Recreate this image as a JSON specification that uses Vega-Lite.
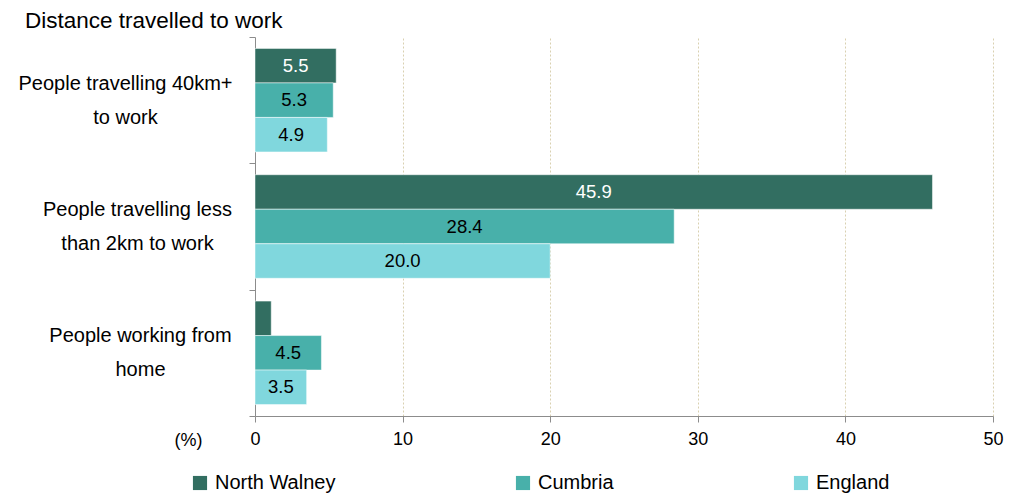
{
  "$schema": "https://vega.github.io/schema/vega-lite/v6.json",
  "width": 738,
  "height": 379,
  "autosize": {"type": "none"},
  "padding": {"left": 255, "top": 37, "right": 29, "bottom": 77},
  "background": "white",
  "config": {
    "font": "Liberation Sans",
    "view": {"stroke": null},
    "axis": {"labelFont": "Liberation Sans", "titleFont": "Liberation Sans"}
  },
  "title": {
    "text": "Distance travelled to work",
    "anchor": "start",
    "frame": "group",
    "dx": -230,
    "dy": 14,
    "offset": 9,
    "fontSize": 22.5,
    "fontWeight": "normal",
    "color": "#000000",
    "font": "Liberation Sans"
  },
  "data": {
    "values": [
      {"category": "People travelling 40km+ to work", "area": "North Walney", "value": 5.5},
      {"category": "People travelling 40km+ to work", "area": "Cumbria", "value": 5.3},
      {"category": "People travelling 40km+ to work", "area": "England", "value": 4.9},
      {"category": "People travelling less than 2km to work", "area": "North Walney", "value": 45.9},
      {"category": "People travelling less than 2km to work", "area": "Cumbria", "value": 28.4},
      {"category": "People travelling less than 2km to work", "area": "England", "value": 20.0},
      {"category": "People working from home", "area": "North Walney", "value": 1.1},
      {"category": "People working from home", "area": "Cumbria", "value": 4.5},
      {"category": "People working from home", "area": "England", "value": 3.5}
    ]
  },
  "encoding": {
    "y": {
      "field": "category",
      "type": "nominal",
      "sort": null,
      "scale": {"paddingInner": 0, "paddingOuter": 0},
      "axis": {
        "title": null,
        "domainColor": "#8c8c8c",
        "tickColor": "#8c8c8c",
        "tickSize": 6,
        "tickBand": "extent",
        "labelAlign": "center",
        "labelPadding": {"expr": "datum.value == 'People travelling 40km+ to work' ? 124 : datum.value == 'People travelling less than 2km to work' ? 112 : 109"},
        "labelOffset": -17,
        "labelFontSize": 20,
        "labelColor": "#000000",
        "labelLineHeight": 34,
        "labelBaseline": "middle",
        "labelLimit": 400,
        "labelExpr": "datum.value == 'People travelling 40km+ to work' ? ['People travelling 40km+', 'to work'] : datum.value == 'People travelling less than 2km to work' ? ['People travelling less', 'than 2km to work'] : datum.value == 'People working from home' ? ['People working  from', 'home'] : ''",
        "grid": false
      }
    },
    "yOffset": {
      "field": "area",
      "type": "nominal",
      "sort": ["North Walney", "Cumbria", "England"],
      "scale": {"paddingInner": 0, "paddingOuter": 0.33}
    }
  },
  "layer": [
    {
      "mark": {"type": "bar", "stroke": "white", "strokeWidth": 0.5},
      "encoding": {
        "x": {
          "field": "value",
          "type": "quantitative",
          "scale": {"domain": [0, 50], "nice": false},
          "axis": {
            "values": [0, 10, 20, 30, 40, 50],
            "title": "(%)",
            "titleFontSize": 18,
            "titleFontWeight": "normal",
            "titleColor": "#000000",
            "titleAnchor": "start",
            "titleAlign": "center",
            "titleBaseline": "middle",
            "titleX": -67,
            "titleY": 24,
            "domainColor": "#8c8c8c",
            "tickColor": "#8c8c8c",
            "tickSize": 6,
            "labelPadding": 8,
            "labelFlush": false,
            "labelFontSize": 18,
            "labelColor": "#000000",
            "grid": true,
            "gridColor": "#d9d0b0",
            "gridDash": [2, 2],
            "gridWidth": 1
          }
        },
        "color": {
          "field": "area",
          "type": "nominal",
          "sort": ["North Walney", "Cumbria", "England"],
          "scale": {"domain": ["North Walney", "Cumbria", "England"], "range": ["#326e61", "#48b0aa", "#80d7dd"]},
          "legend": {
            "title": null,
            "orient": "none",
            "direction": "horizontal",
            "legendX": -65,
            "legendY": 436,
            "symbolType": "square",
            "symbolSize": 200,
            "symbolStrokeWidth": 0,
            "labelFontSize": 20,
            "labelColor": "#000000",
            "labelOffset": 5,
            "columnPadding": 177,
            "labelLimit": 300
          }
        }
      }
    },
    {
      "transform": [{"filter": "datum.value > 2"}],
      "mark": {"type": "text", "fontSize": 18.5, "align": "center", "baseline": "middle"},
      "encoding": {
        "x": {
          "field": "value",
          "type": "quantitative",
          "scale": {"domain": [0, 100], "nice": false},
          "axis": null
        },
        "text": {"field": "value", "type": "quantitative", "format": ".1f"},
        "color": {
          "condition": {"test": "datum.area === 'North Walney'", "value": "#ffffff"},
          "value": "#000000"
        }
      }
    }
  ],
  "resolve": {"scale": {"x": "independent"}}
}
